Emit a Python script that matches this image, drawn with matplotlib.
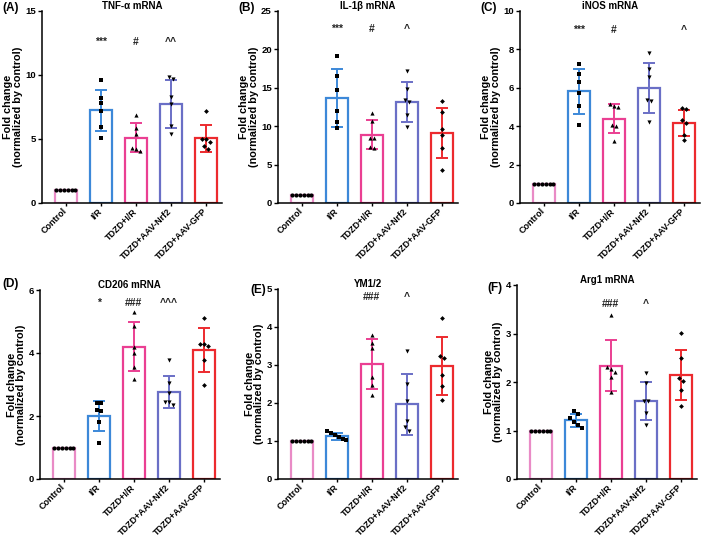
import numpy as np
import matplotlib
matplotlib.use("Agg")
import matplotlib.pyplot as plt

plt.rcParams["font.family"] = ["Liberation Sans", "DejaVu Sans"]
plt.rcParams["font.weight"] = "bold"

# groups shared by every panel
groups = ["Control", "I/R", "TDZD+I/R", "TDZD+AAV-Nrf2", "TDZD+AAV-GFP"]
colors = ["#E98BC6", "#3C88D8", "#EA3F92", "#6A6FC6", "#EC2A2E"]
markers = ["o", "s", "^", "v", "D"]
ctrl = [1.0, 1.0, 1.0, 1.0, 1.0, 1.0]

# (A) TNF-a
tnf_points = [ctrl,
              [9.58, 8.21, 7.84, 7.16, 5.97, 5.05],
              [6.89, 5.84, 5.39, 4.26, 4.05, 4.21],
              [9.87, 9.68, 8.26, 7.76, 6.0, 5.37],
              [7.16, 5.03, 5.03, 4.79, 4.42, 4.18]]
tnf_mean = [1.0, 7.26, 5.1, 7.74, 5.05]
tnf_sd = [0, 1.6, 1.15, 1.85, 1.05]
tnf_sig = ["", "***", "#", "^^", ""]

# (B) IL-1b
il1b_points = [ctrl,
               [19.2, 16.6, 14.7, 11.96, 10.5, 9.8],
               [11.7, 10.7, 8.4, 8.5, 7.3, 7.2],
               [17.2, 14.9, 13.1, 13.4, 11.4, 9.9],
               [13.3, 11.9, 9.6, 8.8, 7.1, 4.3]]
il1b_mean = [1.0, 13.65, 8.9, 13.17, 9.1]
il1b_sd = [0, 3.75, 1.87, 2.6, 3.25]
il1b_sig = ["", "***", "#", "^", ""]

# (C) iNOS
inos_points = [ctrl,
               [7.22, 6.73, 6.3, 5.74, 5.04, 4.05],
               [5.17, 5.05, 5.0, 4.05, 4.03, 3.25],
               [7.83, 7.0, 6.56, 5.36, 5.3, 4.24],
               [4.94, 4.87, 4.3, 4.16, 3.56, 3.3]]
inos_mean = [1.0, 5.81, 4.4, 5.98, 4.16]
inos_sd = [0, 1.16, 0.76, 1.3, 0.67]
inos_sig = ["", "***", "#", "", "^"]

# (D) CD206
cd206_points = [ctrl,
                [2.42, 2.4, 2.2, 2.17, 1.8, 1.14],
                [5.29, 4.85, 4.19, 4.01, 3.57, 3.19],
                [3.77, 3.05, 2.72, 2.46, 2.46, 2.35],
                [5.11, 4.29, 4.27, 4.22, 3.78, 3.0]]
cd206_mean = [1.0, 2.0, 4.2, 2.76, 4.09]
cd206_sd = [0, 0.48, 0.78, 0.52, 0.69]
cd206_sig = ["", "*", "###", "^^^", ""]

# (E) YM1/2
ym_points = [ctrl,
             [1.27, 1.2, 1.16, 1.11, 1.06, 1.03],
             [3.78, 3.59, 3.45, 2.69, 2.47, 2.2],
             [3.36, 2.49, 2.05, 1.53, 1.36, 1.27],
             [4.24, 3.25, 3.19, 2.75, 2.45, 2.07]]
ym_mean = [1.0, 1.12, 3.03, 1.97, 2.98]
ym_sd = [0, 0.09, 0.66, 0.8, 0.76]
ym_sig = ["", "", "###", "^", ""]

# (F) Arg1
arg1_points = [ctrl,
               [1.4, 1.35, 1.25, 1.18, 1.11, 1.05],
               [3.38, 2.3, 2.26, 2.21, 2.11, 1.79],
               [2.18, 1.98, 1.61, 1.6, 1.37, 1.11],
               [3.02, 2.49, 2.09, 2.03, 1.83, 1.51]]
arg1_mean = [1.0, 1.21, 2.34, 1.61, 2.15]
arg1_sd = [0, 0.135, 0.53, 0.39, 0.52]
arg1_sig = ["", "", "###", "^", ""]

W, H = 709, 539
fig = plt.figure(figsize=(W / 100, H / 100), dpi=100)


def swarm(vals, px_per_unit, step=0.11, gap=4.0):
    """Spread points that sit too close vertically into a centred row."""
    order = np.argsort(vals)[::-1]
    offs = np.zeros(len(vals))
    clusters, cur = [], [order[0]]
    for i in order[1:]:
        if abs(vals[cur[-1]] - vals[i]) * px_per_unit < gap:
            cur.append(i)
        else:
            clusters.append(cur)
            cur = [i]
    clusters.append(cur)
    for c in clusters:
        n = len(c)
        for k, idx in enumerate(c):
            offs[idx] = (k - (n - 1) / 2) * step
    return offs


# letter, title, data..., ymax, tick step, y of significance marks, (axes left, top, bottom), (letter x, y)
panels = [
    ("(A)", "TNF-α mRNA", tnf_points, tnf_mean, tnf_sd, tnf_sig, 15, 5, 12.6, (42, 11, 203), (2, 8)),
    ("(B)", "IL-1β mRNA", il1b_points, il1b_mean, il1b_sd, il1b_sig, 25, 5, 22.7, (278, 11, 203), (238, 8)),
    ("(C)", "iNOS mRNA", inos_points, inos_mean, inos_sd, inos_sig, 10, 2, 9.0, (520, 11, 203), (480, 8)),
    ("(D)", "CD206 mRNA", cd206_points, cd206_mean, cd206_sd, cd206_sig, 6, 2, 5.6, (40, 290, 479), (2, 284)),
    ("(E)", "YM1/2", ym_points, ym_mean, ym_sd, ym_sig, 5, 1, 4.8, (278, 289, 479), (250, 290)),
    ("(F)", "Arg1 mRNA", arg1_points, arg1_mean, arg1_sd, arg1_sig, 4, 1, 3.6, (517, 285, 479), (487, 288)),
]

x = np.arange(len(groups))
xlim = (-0.68, 4.45)
unit_px = 35.0

for (letter, title, pts, mean, sd, sig, ymax, ystep, sig_y,
     (left, top, bottom), (lx, ly)) in panels:
    width_px = (xlim[1] - xlim[0]) * unit_px
    ax = fig.add_axes([left / W, 1 - bottom / H, width_px / W, (bottom - top) / H])
    px_per_unit = (bottom - top) / ymax

    for i in range(len(groups)):
        ax.bar(x[i], mean[i], width=0.62, facecolor="white", edgecolor=colors[i],
               linewidth=1.6, zorder=2)
        if sd[i] > 0:
            ax.errorbar(x[i], mean[i], yerr=sd[i], color=colors[i], elinewidth=1.4,
                        capsize=4.5, capthick=1.4, zorder=3)
        offs = swarm(np.array(pts[i]), px_per_unit)
        ax.scatter(x[i] + offs, pts[i], marker=markers[i], s=9 if markers[i] != "D" else 6,
                   color="black", linewidths=0, zorder=4)
        if sig[i]:
            ax.text(x[i], sig_y, sig[i], ha="center", va="center", fontsize=7.5,
                    fontweight="bold", color="#222222")

    ax.set_xlim(*xlim)
    ax.set_ylim(0, ymax)
    ax.set_yticks(np.arange(0, ymax + 0.01, ystep))
    ax.set_xticks(x)
    ax.set_xticklabels(groups, rotation=45, ha="right", va="center",
                       rotation_mode="anchor", fontsize=6.5)
    ax.tick_params(axis="y", labelsize=6.8, length=3, width=1, pad=1.5)
    ax.tick_params(axis="x", length=2.5, width=1, pad=2.5)
    for s in ["top", "right"]:
        ax.spines[s].set_visible(False)
    for s in ["left", "bottom"]:
        ax.spines[s].set_linewidth(1.1)
    ax.set_ylabel("Fold change\n(normalized by control)", fontsize=7.8, fontweight="bold",
                  labelpad=1.5, linespacing=0.95)
    ax.set_title(title, fontsize=7, fontweight="bold", pad=0.5)
    fig.text(lx / W, 1 - ly / H, letter, fontsize=8.5, fontweight="bold",
             ha="left", va="center")

fig.savefig("out.png", dpi=100)
